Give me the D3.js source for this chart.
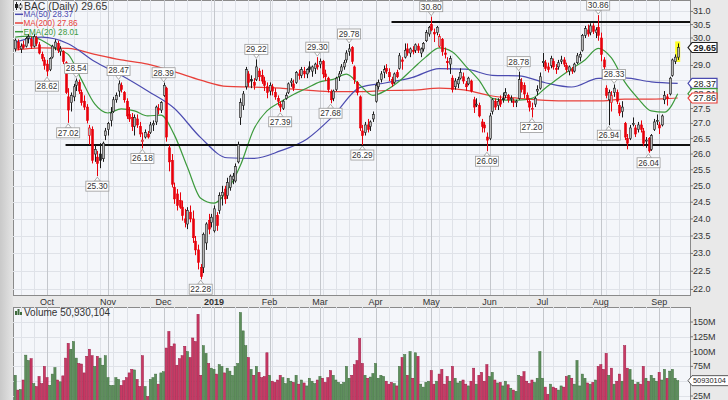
<!DOCTYPE html>
<html>
<head>
<meta charset="utf-8">
<script src="https://d3js.org/d3.v7.min.js"></script>
<style>
  body { margin: 0; background: #e6e6e6; }
  svg { display: block; font-family: Arial, "Liberation Sans", sans-serif; }
</style>
</head>
<body>
<div id="chart"></div>
<script>
// ---- data (BAC daily, 13 Sep 2018 .. 12 Sep 2019) ----
const opens = [
  29.60,29.85,29.60,29.75,29.70,30.00,29.95,29.70,30.00,29.75,29.40,29.20,
  29.05,28.85,29.30,29.65,29.80,29.50,29.50,29.10,27.90,27.70,27.90,28.30,28.40,28.05,27.75,27.55,26.60,26.80,26.00,25.90,26.00,25.85,26.60,
  26.80,27.10,27.40,27.80,28.10,28.30,28.05,27.75,27.30,27.20,26.90,27.15,26.90,26.40,26.55,26.65,26.70,26.95,27.05,27.50,27.45,
  27.95,28.20,26.20,25.80,24.95,24.75,24.55,24.35,24.00,23.85,24.20,24.00,23.35,23.10,22.60,22.60,23.30,23.95,23.90,
  23.65,24.10,24.25,24.70,24.90,24.70,24.95,25.20,25.15,25.75,27.20,27.60,28.25,28.70,28.50,28.40,28.50,28.80,28.65,28.45,28.25,
  28.10,28.25,28.05,27.85,27.65,27.50,27.85,28.05,28.40,28.35,28.40,28.70,28.65,28.80,28.70,28.95,28.80,28.90,29.00,
  29.05,29.15,28.70,28.55,28.05,27.85,28.15,28.60,28.80,28.95,29.20,29.50,29.65,28.95,28.40,27.90,26.75,26.70,26.95,26.90,27.15,
  27.75,28.25,28.50,28.75,28.90,28.75,28.50,28.40,28.75,28.90,29.20,29.30,29.60,29.45,29.55,29.55,29.70,29.45,29.60,29.90,30.15,
  30.50,30.20,30.20,29.70,29.95,29.45,29.15,29.05,28.55,28.25,28.35,28.55,28.60,28.35,28.35,28.45,27.80,27.65,27.60,27.05,26.95,26.55,
  26.50,27.40,27.75,27.60,27.80,27.85,27.95,27.95,27.85,27.75,27.70,27.85,28.40,28.30,27.95,27.75,27.50,27.65,28.10,28.20,
  29.10,29.10,28.95,29.00,29.15,28.90,28.95,29.15,29.20,29.00,28.80,28.85,28.80,29.10,29.30,29.55,30.10,30.30,30.20,30.45,30.20,30.40,
  30.00,29.20,28.20,27.80,27.70,28.05,28.05,27.60,27.40,27.00,26.50,26.50,27.00,26.85,26.80,26.95,26.75,26.45,26.50,26.15,26.80,27.10,
  26.95,26.95,27.80,27.90,28.00,28.65,29.15,29.30
];
const highs = [
  29.98,29.95,29.80,29.90,30.05,30.15,30.05,30.15,30.08,29.85,29.50,29.30,
  29.20,29.30,29.75,29.95,29.90,29.70,29.55,29.15,28.20,28.05,28.35,28.54,28.50,28.15,27.95,27.65,26.95,26.90,26.30,26.10,26.35,26.40,26.85,
  27.05,27.55,27.90,28.05,28.47,28.40,28.10,27.85,27.55,27.35,27.30,27.30,27.05,26.70,26.80,26.75,27.05,27.10,27.60,27.65,27.75,
  28.39,28.25,26.30,26.00,25.10,24.90,24.80,24.55,24.30,24.35,24.40,24.25,23.50,23.25,22.70,23.60,23.90,24.15,24.15,
  24.40,24.20,24.80,25.00,25.00,25.25,25.35,25.40,25.70,26.40,27.85,28.10,28.95,28.80,28.65,28.55,29.22,28.90,28.85,28.60,28.40,
  28.40,28.35,28.20,27.95,27.75,27.80,28.05,28.40,28.55,28.50,28.80,28.85,28.95,28.95,28.90,29.15,29.00,29.10,29.30,
  29.25,29.20,28.85,28.60,28.15,28.15,28.60,28.80,29.05,29.20,29.55,29.78,29.70,29.00,28.45,27.95,26.95,27.05,27.15,27.10,27.40,
  28.40,28.50,28.80,29.00,29.05,28.90,28.60,28.75,28.85,29.45,29.30,29.80,29.80,29.65,29.70,29.80,29.80,29.65,29.85,30.30,30.45,
  30.80,30.35,30.45,30.15,30.00,29.65,29.30,29.35,28.65,28.55,28.60,28.90,28.75,28.45,28.60,28.50,27.90,27.85,27.70,27.15,27.05,26.70,
  27.35,27.85,27.85,27.85,27.95,28.05,28.20,28.00,27.95,27.85,27.80,28.78,28.55,28.40,28.05,27.85,27.70,27.90,28.30,28.75,
  29.45,29.20,29.10,29.35,29.25,29.05,29.20,29.35,29.30,29.10,29.00,28.95,29.10,29.45,29.50,30.15,30.45,30.50,30.55,30.55,30.40,30.86,
  30.20,29.30,28.30,28.15,28.10,28.33,28.15,27.70,27.75,27.05,26.65,26.95,27.20,26.95,27.05,27.10,26.85,26.55,26.55,26.65,27.15,27.30,
  27.05,27.30,28.10,28.00,28.60,29.25,29.40,29.80
];
const lows = [
  29.50,29.55,29.45,29.60,29.65,29.80,29.60,29.65,29.70,29.40,29.15,28.85,
  28.62,28.80,29.25,29.55,29.45,29.35,29.05,28.00,27.02,27.40,27.75,28.10,28.00,27.60,27.45,27.00,26.30,25.70,25.75,25.30,25.55,25.75,26.45,
  26.60,26.90,27.35,27.70,27.90,28.05,27.70,27.15,27.05,26.75,26.60,26.85,26.55,26.18,26.50,26.50,26.65,26.75,26.95,27.30,27.35,
  27.90,26.40,25.45,24.95,24.45,24.25,24.30,23.95,23.75,23.70,23.90,23.30,22.95,22.55,22.28,22.45,23.10,23.55,23.75,
  23.60,23.65,24.15,24.40,24.45,24.60,24.85,25.05,25.10,25.70,26.95,27.45,28.15,28.25,28.20,28.15,28.45,28.45,28.35,28.10,27.85,
  27.95,27.95,27.80,27.60,27.39,27.45,27.80,28.00,28.25,28.10,28.35,28.50,28.55,28.55,28.55,28.75,28.60,28.70,28.85,
  28.90,28.55,28.45,28.05,27.68,27.75,28.10,28.45,28.70,28.85,29.10,29.35,29.05,28.35,27.95,26.75,26.29,26.60,26.70,26.75,27.05,
  27.70,28.15,28.40,28.55,28.70,28.45,28.25,28.35,28.55,28.85,28.85,29.25,29.35,29.30,29.40,29.45,29.45,29.30,29.50,29.85,30.05,
  30.25,29.85,30.10,29.65,29.35,29.25,28.85,28.70,28.05,28.15,28.20,28.50,28.35,28.10,28.30,28.05,27.35,27.55,27.20,26.70,26.70,26.09,
  26.45,27.30,27.45,27.45,27.55,27.70,27.85,27.70,27.70,27.55,27.55,27.80,28.05,27.85,27.70,27.40,27.20,27.55,27.95,28.15,
  28.95,28.80,28.75,28.90,28.85,28.70,28.85,29.05,28.95,28.75,28.65,28.70,28.75,29.05,29.15,29.50,30.00,30.05,30.10,30.15,30.00,29.90,
  29.15,28.70,27.85,26.94,27.40,27.90,27.65,27.25,27.20,26.45,26.15,26.45,26.90,26.55,26.70,26.70,26.25,26.20,26.04,26.10,26.75,26.95,
  26.65,26.90,27.65,27.60,27.95,28.60,29.05,29.20
];
const closes = [
  29.92,29.62,29.70,29.65,29.98,30.05,29.70,30.05,29.80,29.45,29.25,29.00,
  28.80,29.25,29.70,29.85,29.55,29.60,29.15,28.05,27.45,27.95,28.25,28.45,28.10,27.70,27.55,27.10,26.85,25.80,26.15,25.70,25.80,26.35,26.75,
  27.00,27.35,27.80,27.95,28.35,28.15,27.80,27.25,27.15,26.90,27.20,26.95,26.65,26.45,26.70,26.55,26.95,27.00,27.55,27.45,27.70,
  28.30,26.55,25.75,25.05,24.60,24.40,24.35,24.10,23.90,24.25,24.00,23.45,23.10,22.75,22.35,23.55,23.85,23.70,24.05,
  24.30,23.80,24.70,24.80,24.60,25.10,25.30,25.30,25.60,26.30,27.70,28.00,28.85,28.40,28.45,28.30,28.95,28.60,28.45,28.30,28.05,
  28.30,28.10,27.90,27.75,27.55,27.75,27.95,28.35,28.45,28.20,28.75,28.65,28.85,28.70,28.85,28.85,28.95,29.05,28.95,
  29.15,28.70,28.60,28.15,27.80,28.10,28.55,28.70,28.95,29.10,29.45,29.60,29.15,28.50,28.05,26.85,26.60,26.95,26.80,27.05,27.30,
  28.30,28.40,28.70,28.85,28.80,28.60,28.35,28.70,28.60,29.35,29.15,29.55,29.45,29.60,29.50,29.75,29.55,29.60,29.80,30.20,30.40,
  30.30,30.15,30.40,30.05,29.50,29.40,29.10,29.25,28.15,28.45,28.50,28.75,28.45,28.25,28.55,28.10,27.55,27.65,27.25,26.90,26.85,26.45,
  27.25,27.80,27.55,27.75,27.65,27.80,28.05,27.80,27.85,27.70,27.75,28.50,28.15,28.00,27.80,27.55,27.50,27.85,28.15,28.60,
  29.15,28.90,28.85,29.25,28.95,28.85,29.10,29.20,29.05,28.85,28.95,28.80,29.05,29.35,29.40,30.10,30.35,30.15,30.45,30.25,30.30,30.10,
  29.40,28.95,27.95,28.05,27.95,28.20,27.75,27.35,27.55,26.55,26.35,26.85,27.00,26.65,26.95,26.80,26.35,26.45,26.10,26.60,27.05,27.10,
  26.85,27.25,27.95,27.85,28.55,29.20,29.30,29.65
];
// volume, millions of shares
const volumes = [
  60,35,36,52,94,85,88,46,41,58,46,75,
  56,43,62,73,52,49,59,89,114,104,117,89,80,79,64,92,104,93,75,92,89,77,93,
  56,43,43,56,53,43,51,56,64,70,69,53,41,93,41,24,53,56,62,45,64,
  66,106,134,109,113,77,88,93,109,100,90,123,117,163,60,110,97,80,72,
  70,62,78,75,64,72,67,60,75,80,166,135,110,90,70,60,75,65,56,58,98,
  60,50,48,52,60,56,46,55,50,48,60,45,52,47,42,55,50,46,52,
  58,55,48,56,68,60,52,48,45,48,75,55,60,78,85,122,80,60,55,57,63,
  80,55,60,58,50,45,48,46,42,75,90,95,60,100,55,98,92,45,40,48,50,
  68,45,50,62,70,45,58,50,75,55,47,50,52,45,42,50,72,45,60,65,50,78,
  58,65,52,47,48,42,50,44,38,35,33,60,58,66,50,46,52,48,55,100,
  55,40,28,45,40,38,35,42,40,58,60,55,45,85,42,62,55,47,45,48,52,75,
  78,70,97,60,72,45,50,62,50,110,72,70,52,45,48,45,75,55,50,60,55,50,
  65,52,70,55,67,70,55,50.930104
];

const maIdx = [0,10,20,30,40,50,60,70,80,90,100,110,120,130,140,150,160,170,180,190,200,210,220,230,240,250];
const ma50  = [29.85,30.03,29.79,29.14,28.65,28.10,27.51,26.53,25.88,25.86,26.10,26.48,27.25,28.22,28.39,28.58,28.89,28.87,28.65,28.63,28.39,28.24,28.54,28.56,28.42,28.37];
const ma200 = [29.56,29.64,29.62,29.40,29.20,29.05,28.78,28.48,28.26,28.24,28.20,28.13,28.08,28.08,28.12,28.13,28.20,28.13,27.93,27.85,27.78,27.76,27.76,27.82,27.82,27.86];
const emaIdx = [0,5,10,15,20,25,30,35,40,45,50,55,60,65,70,75,80,85,90,95,100,105,110,115,120,125,130,135,140,145,150,155,160,165,170,175,180,185,190,195,200,205,210,215,220,225,230,235,240,245,250];
const ema20 = [30.03,30.07,29.92,29.62,29.40,28.50,27.66,27.35,27.49,27.42,27.25,27.28,26.63,25.58,24.62,24.47,24.86,25.64,26.80,27.42,
               27.72,27.98,28.20,28.42,28.51,28.69,28.31,27.95,28.13,28.45,28.88,29.31,29.64,29.49,28.98,28.48,27.85,27.79,27.79,27.85,
               28.20,28.55,28.88,29.20,29.62,29.27,28.42,27.85,27.42,27.38,28.01];

// support / resistance lines
const hLevels = [26.29, 30.60];
const hStart = [19, 142];

// swing labels (index of candle, high or low)
const annIdx  = [12,20,23,31,39,48,56,70,91,100,114,119,126,131,157,178,190,195,220,224,226,239];
const annType = ["L","L","H","L","H","L","H","L","H","L","H","L","H","L","H","L","H","L","H","L","H","L"];

const holidays = ["2018-11-22","2018-12-05","2018-12-25","2019-01-01","2019-01-21","2019-02-18","2019-04-19","2019-05-27","2019-07-04","2019-09-02"];
const monthLabels = ["Oct","Nov","Dec","2019","Feb","Mar","Apr","May","Jun","Jul","Aug","Sep"];
const priceTicks = ["22.0","22.5","23.0","23.5","24.0","24.5","25.0","25.5","26.0","26.5","27.0","27.5","28.0","28.5","29.0","29.5","30.0","30.5","31.0"];
const volTicks = [25, 50, 75, 100, 125, 150];

// ---- layout ----
const W = 728, H = 400;
const P = { left: 13, right: 690, top: 0, bottom: 295 };
const V = { top: 307, bottom: 400 };
const panelBg = "#f4f6fa", gridC = "#dfe2e8", monthC = "#c4c7cc";
const upC = "#1a1a1a", dnC = "#e8000b";

const fmt = d3.timeFormat("%Y-%m-%d");
const dates = [];
for (let d = new Date(2018, 8, 13); dates.length < closes.length; d = d3.timeDay.offset(d, 1)) {
  const wd = d.getDay();
  if (wd === 0 || wd === 6 || holidays.includes(fmt(d))) continue;
  dates.push(new Date(d));
}
const n = closes.length;
const x = d3.scaleLinear().domain([0, n - 1]).range([15.2, 677.7]);
const y = d3.scaleLog().domain([21.85, 31.44]).range([P.bottom, P.top]);
const yV = d3.scaleLinear().domain([0, 175]).range([410.8, 307.2]);

const weekStarts = [], monthStarts = [];
dates.forEach((d, i) => {
  if (i === 0) return;
  if (d.getMonth() !== dates[i - 1].getMonth()) monthStarts.push(i);
  else if (+d3.timeWeek.floor(d) !== +d3.timeWeek.floor(dates[i - 1])) weekStarts.push(i);
});

const days = d3.range(n).map(i => ({
  i, o: opens[i], h: highs[i], l: lows[i], c: closes[i], v: volumes[i],
  up: i === 0 ? closes[i] >= opens[i] : closes[i] >= closes[i - 1]
}));
const last = days[n - 1];

// right-hand tags (price, MAs) and where they sit
const tags = [
  { v: ma50[ma50.length - 1], color: "#4b4bb0" },
  { v: ema20[ema20.length - 1], color: "#3c9a3c" },
  { v: ma200[ma200.length - 1], color: "#e8403a" },
  { v: last.c, color: "#222", bold: true }
];
const tagYs = tags.map(t => y(t.v));

const svg = d3.select("#chart").append("svg").attr("width", W).attr("height", H);
const defs = svg.append("defs");
const lg = defs.append("linearGradient").attr("id", "side").attr("x1", 0).attr("x2", 1);
lg.append("stop").attr("offset", 0).attr("stop-color", "#c9c9c9");
lg.append("stop").attr("offset", 1).attr("stop-color", "#e4e4e4");
defs.append("clipPath").attr("id", "clipP").append("rect")
  .attr("x", P.left).attr("y", P.top).attr("width", P.right - P.left).attr("height", P.bottom - P.top);
defs.append("clipPath").attr("id", "clipV").append("rect")
  .attr("x", P.left).attr("y", V.top).attr("width", P.right - P.left).attr("height", V.bottom - V.top);

svg.append("rect").attr("width", W).attr("height", H).attr("fill", "#e9e9e9");
svg.append("rect").attr("width", P.left).attr("height", H).attr("fill", "url(#side)");

// panels
[[P.top, P.bottom], [V.top, V.bottom + 2]].forEach(([t, b]) => {
  svg.append("rect").attr("x", P.left + 0.5).attr("y", t + 0.5)
    .attr("width", P.right - P.left).attr("height", b - t)
    .attr("fill", panelBg).attr("stroke", "#8a8a8a");
});

// grids
const grid = svg.append("g").attr("shape-rendering", "crispEdges");
priceTicks.forEach(t => {
  grid.append("line").attr("x1", P.left).attr("x2", P.right)
    .attr("y1", Math.round(y(+t)) + 0.5).attr("y2", Math.round(y(+t)) + 0.5).attr("stroke", gridC);
});
volTicks.forEach(t => {
  grid.append("line").attr("x1", P.left).attr("x2", P.right)
    .attr("y1", Math.round(yV(t)) + 0.5).attr("y2", Math.round(yV(t)) + 0.5).attr("stroke", gridC);
});
[[P.top, P.bottom], [V.top, V.bottom]].forEach(([t, b]) => {
  weekStarts.forEach(i => grid.append("line").attr("x1", Math.round(x(i)) + 0.5).attr("x2", Math.round(x(i)) + 0.5)
    .attr("y1", t).attr("y2", b).attr("stroke", gridC));
  monthStarts.forEach(i => grid.append("line").attr("x1", Math.round(x(i)) + 0.5).attr("x2", Math.round(x(i)) + 0.5)
    .attr("y1", t).attr("y2", b).attr("stroke", monthC));
});

// month labels
monthStarts.forEach((i, k) => {
  svg.append("text").attr("x", x(i)).attr("y", 304.5).attr("text-anchor", "middle")
    .attr("font-size", 9).attr("fill", "#333")
    .attr("font-weight", monthLabels[k] === "2019" ? "bold" : "normal")
    .text(monthLabels[k]);
});

// price axis labels + ticks (labels hidden behind a value tag are not drawn)
priceTicks.forEach(t => {
  const yy = y(+t);
  svg.append("line").attr("x1", P.right).attr("x2", P.right + 3).attr("y1", yy).attr("y2", yy).attr("stroke", "#777");
  if (tagYs.some(ty => Math.abs(ty - yy) < 7)) return;
  svg.append("text").attr("x", 693).attr("y", yy + 3).attr("font-size", 9).attr("fill", "#333").text(t);
});
const volTagY = yV(last.v);
volTicks.forEach(t => {
  const yy = yV(t);
  svg.append("line").attr("x1", P.right).attr("x2", P.right + 3).attr("y1", yy).attr("y2", yy).attr("stroke", "#777");
  if (Math.abs(volTagY - yy) < 7) return;
  svg.append("text").attr("x", 693).attr("y", yy + 3).attr("font-size", 9).attr("fill", "#333").text(t + "M");
});

// volume bars
svg.append("g").attr("clip-path", "url(#clipV)")
  .selectAll("rect").data(days).join("rect")
  .attr("x", d => x(d.i) - 1.1).attr("width", 2.2)
  .attr("y", d => yV(d.v)).attr("height", d => yV(0) - yV(d.v))
  .attr("fill", d => d.up ? "#5e8f5c" : "#c83a64")
  .attr("stroke", d => d.up ? "#3f6c3e" : "#9c1a45").attr("stroke-width", 0.5);

// price layer
const pg = svg.append("g").attr("clip-path", "url(#clipP)");

// highlight last candle
pg.append("rect").attr("x", x(last.i) - 2.5).attr("width", 5)
  .attr("y", y(last.h) - 2).attr("height", y(last.l) - y(last.h) + 4).attr("fill", "#ffff20");

// moving averages
const line = d3.line().curve(d3.curveMonotoneX);
const maLines = [
  { idx: maIdx, vals: ma200, color: "#e8403a" },
  { idx: maIdx, vals: ma50, color: "#4b4bb0" },
  { idx: emaIdx, vals: ema20, color: "#3c9a3c" }
];
maLines.forEach(m => {
  pg.append("path").attr("d", line(m.idx.map((i, k) => [x(i), y(m.vals[k])])))
    .attr("fill", "none").attr("stroke", m.color).attr("stroke-width", 1.2);
});

// support / resistance
hLevels.forEach((lv, k) => {
  pg.append("line").attr("x1", x(hStart[k])).attr("x2", P.right)
    .attr("y1", y(lv)).attr("y2", y(lv)).attr("stroke", "#111").attr("stroke-width", 2);
});

// candles
const cg = pg.append("g");
cg.selectAll("line").data(days).join("line")
  .attr("x1", d => Math.round(x(d.i)) + 0.5).attr("x2", d => Math.round(x(d.i)) + 0.5)
  .attr("y1", d => y(d.h)).attr("y2", d => y(d.l))
  .attr("stroke", d => d.up ? upC : dnC).attr("stroke-width", 1);
cg.selectAll("rect").data(days).join("rect")
  .attr("x", d => Math.round(x(d.i)) - 0.5).attr("width", 2)
  .attr("y", d => y(Math.max(d.o, d.c)))
  .attr("height", d => Math.max(1, Math.abs(y(d.o) - y(d.c))))
  .attr("fill", d => d.c >= d.o ? "#b8b8b8" : (d.up ? upC : dnC))
  .attr("stroke", d => d.up ? upC : dnC).attr("stroke-width", 0.6);

// swing annotations
annIdx.forEach((i, k) => {
  const d = days[i], hi = annType[k] === "H";
  const val = hi ? d.h : d.l;
  const cx = x(i), py = y(val);
  const bw = 23, bh = 10;
  const by = hi ? py - 5 - bh : py + 5;
  const g = svg.append("g");
  g.append("path")
    .attr("d", hi ? `M${cx - 3},${by + bh} L${cx},${py - 1} L${cx + 3},${by + bh} Z`
                  : `M${cx - 3},${by} L${cx},${py + 1} L${cx + 3},${by} Z`)
    .attr("fill", "#fff").attr("stroke", "#999").attr("stroke-width", 0.8);
  g.append("rect").attr("x", cx - bw / 2).attr("y", by).attr("width", bw).attr("height", bh)
    .attr("fill", "#fff").attr("stroke", "#999").attr("stroke-width", 0.8);
  g.append("text").attr("x", cx).attr("y", by + 8).attr("text-anchor", "middle")
    .attr("font-size", 8.3).attr("fill", "#333").text(val.toFixed(2));
});

// right-hand value tags
tags.forEach((t, k) => {
  const yy = tagYs[k];
  const g = svg.append("g");
  g.append("path").attr("d", `M688,${yy} L692,${yy - 5} H717 V${yy + 5} H692 Z`)
    .attr("fill", "#fff").attr("stroke", t.color).attr("stroke-width", 1.2);
  g.append("text").attr("x", 693.5).attr("y", yy + 3.3).attr("font-size", 9)
    .attr("font-weight", t.bold ? "bold" : "normal").attr("fill", "#222").text(t.v.toFixed(2));
});
{
  const g = svg.append("g");
  g.append("path").attr("d", `M688,${volTagY} L692,${volTagY - 5} H730 V${volTagY + 5} H692 Z`)
    .attr("fill", "#fff").attr("stroke", "#333").attr("stroke-width", 0.8);
  g.append("text").attr("x", 693).attr("y", volTagY + 2.8).attr("font-size", 7.4).attr("fill", "#222")
    .text(Math.round(last.v * 1e6));
}

// legends
const leg = svg.append("g");
leg.append("line").attr("x1", 16.5).attr("x2", 16.5).attr("y1", 2).attr("y2", 10).attr("stroke", "#222");
leg.append("rect").attr("x", 15).attr("y", 4).attr("width", 3).attr("height", 4).attr("fill", "#222");
leg.append("line").attr("x1", 20.5).attr("x2", 20.5).attr("y1", 3).attr("y2", 10).attr("stroke", "#222");
leg.append("rect").attr("x", 19).attr("y", 5).attr("width", 3).attr("height", 3).attr("fill", "#fff").attr("stroke", "#222").attr("stroke-width", 0.6);
leg.append("text").attr("x", 24).attr("y", 9.5).attr("font-size", 10.4).attr("fill", "#333")
  .text("BAC (Daily) " + last.c.toFixed(2));
const legRows = [
  { name: "MA(50)", v: ma50[ma50.length - 1], color: "#4b4bb0" },
  { name: "MA(200)", v: ma200[ma200.length - 1], color: "#e8403a" },
  { name: "EMA(20)", v: ema20[ema20.length - 1], color: "#3c9a3c" }
];
legRows.forEach((r, k) => {
  const yy = 17.3 + k * 8.7;
  leg.append("line").attr("x1", 15).attr("x2", 23).attr("y1", yy - 3).attr("y2", yy - 3)
    .attr("stroke", r.color).attr("stroke-width", 1.5);
  leg.append("text").attr("x", 23.5).attr("y", yy).attr("font-size", 8.2).attr("fill", r.color)
    .text(r.name + " " + r.v.toFixed(2));
});
const vl = svg.append("g");
[[15, 4], [17.5, 6], [20, 3]].forEach(([bx, bh]) =>
  vl.append("rect").attr("x", bx).attr("y", 315 - bh).attr("width", 2).attr("height", bh).attr("fill", "#3f6c3e"));
vl.append("text").attr("x", 24).attr("y", 315.5).attr("font-size", 10).attr("fill", "#333")
  .text("Volume " + d3.format(",")(Math.round(last.v * 1e6)));
</script>
</body>
</html>
